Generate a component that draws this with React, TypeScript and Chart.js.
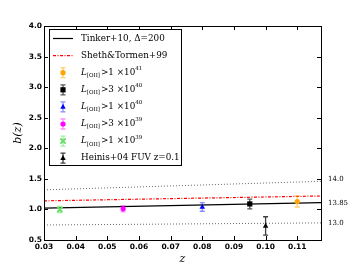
import React, { useEffect, useRef } from "react";
import { Chart, registerables } from "chart.js";

Chart.register(...registerables);

// Model lines (z range endpoints)
const zLine = [0.03, 0.1175];
const tinker = [1.02, 1.11];
const sheth = [1.14, 1.22];
const massHi = [1.32, 1.46];
const massLo = [0.745, 0.78];
const massLabels = ["14.0", "13.85", "13.0"];

// Measurements
const sampleZ = [0.11, 0.095, 0.08, 0.055, 0.035, 0.1];
const sampleB = [1.13, 1.09, 1.04, 1.01, 1.0, 0.73];
const sampleErr = [0.09, 0.08, 0.07, 0.05, 0.05, 0.15];
const sampleColors = ["#ffa500", "#000000", "#0000ff", "#ff00ff", "#66dd66", "#000000"];
const sampleErrColors = [
  "rgba(255,165,0,0.55)",
  "rgba(0,0,0,0.65)",
  "rgba(0,0,255,0.45)",
  "rgba(255,0,255,0.45)",
  "rgba(102,221,102,0.6)",
  "rgba(0,0,0,0.75)",
];
const sampleStyles = ["circle", "rect", "triangle", "circle", "crossRot", "triangle"];
const sampleExp = ["41", "40", "40", "39", "39", ""];
const sampleCoef = ["1", "3", "1", "3", "1", ""];

const xTicks = [0.03, 0.04, 0.05, 0.06, 0.07, 0.08, 0.09, 0.1, 0.11];
const yTicks = [0.5, 1.0, 1.5, 2.0, 2.5, 3.0, 3.5, 4.0];

function drawMarker(ctx: CanvasRenderingContext2D, style: string, x: number, y: number, color: string, r: number) {
  ctx.save();
  ctx.fillStyle = color;
  ctx.strokeStyle = color;
  ctx.beginPath();
  if (style === "circle") {
    ctx.arc(x, y, r, 0, Math.PI * 2);
    ctx.fill();
  } else if (style === "rect") {
    ctx.fillRect(x - r, y - r, 2 * r, 2 * r);
  } else if (style === "triangle") {
    ctx.moveTo(x, y - r * 1.2);
    ctx.lineTo(x + r * 1.05, y + r * 0.7);
    ctx.lineTo(x - r * 1.05, y + r * 0.7);
    ctx.closePath();
    ctx.fill();
  } else {
    ctx.lineWidth = 1.8;
    ctx.moveTo(x - r, y - r);
    ctx.lineTo(x + r, y + r);
    ctx.moveTo(x + r, y - r);
    ctx.lineTo(x - r, y + r);
    ctx.stroke();
  }
  ctx.restore();
}

function drawErr(ctx: CanvasRenderingContext2D, x: number, y1: number, y2: number, color: string) {
  ctx.save();
  ctx.strokeStyle = color;
  ctx.lineWidth = 1.3;
  ctx.beginPath();
  ctx.moveTo(x, y1);
  ctx.lineTo(x, y2);
  ctx.moveTo(x - 2.5, y1);
  ctx.lineTo(x + 2.5, y1);
  ctx.moveTo(x - 2.5, y2);
  ctx.lineTo(x + 2.5, y2);
  ctx.stroke();
  ctx.restore();
}

const customPlugin = {
  id: "custom",
  afterDatasetsDraw(chart: any) {
    const ctx: CanvasRenderingContext2D = chart.ctx;
    const xs = chart.scales.x;
    const ys = chart.scales.y;
    for (let i = 0; i < sampleZ.length; i++) {
      const px = xs.getPixelForValue(sampleZ[i]);
      drawErr(ctx, px, ys.getPixelForValue(sampleB[i] + sampleErr[i]), ys.getPixelForValue(sampleB[i] - sampleErr[i]), sampleErrColors[i]);
      drawMarker(ctx, sampleStyles[i], px, ys.getPixelForValue(sampleB[i]), sampleColors[i], 2.6);
    }
  },
  afterDraw(chart: any) {
    const ctx: CanvasRenderingContext2D = chart.ctx;
    const a = chart.chartArea;
    const xs = chart.scales.x;
    const ys = chart.scales.y;
    ctx.save();
    ctx.strokeStyle = "#000";
    ctx.lineWidth = 1;
    ctx.strokeRect(Math.round(a.left) + 0.5, Math.round(a.top) + 0.5, Math.round(a.right - a.left), Math.round(a.bottom - a.top));
    ctx.beginPath();
    for (const v of xTicks) {
      const px = Math.round(xs.getPixelForValue(v)) + 0.5;
      ctx.moveTo(px, a.bottom);
      ctx.lineTo(px, a.bottom - 4);
      ctx.moveTo(px, a.top);
      ctx.lineTo(px, a.top + 4);
    }
    for (const v of yTicks) {
      const py = Math.round(ys.getPixelForValue(v)) + 0.5;
      ctx.moveTo(a.left, py);
      ctx.lineTo(a.left + 4, py);
      ctx.moveTo(a.right, py);
      ctx.lineTo(a.right - 4, py);
    }
    ctx.stroke();

    ctx.fillStyle = "#000";
    ctx.font = "7px 'DejaVu Serif'";
    ctx.textAlign = "left";
    ctx.textBaseline = "middle";
    const ends = [massHi[1], tinker[1], massLo[1]];
    const offs = [-2, 0, 0];
    for (let i = 0; i < 3; i++) {
      ctx.fillText(massLabels[i], a.right + 7, ys.getPixelForValue(ends[i]) + offs[i]);
    }

    ctx.font = "italic 11px 'DejaVu Serif'";
    ctx.textAlign = "center";
    ctx.fillText("z", (a.left + a.right) / 2, 259);
    ctx.save();
    ctx.translate(18, (a.top + a.bottom) / 2);
    ctx.rotate(-Math.PI / 2);
    ctx.fillText("b(z)", 0, 0);
    ctx.restore();

    // legend
    const bx = 49, by = 29.5, bw = 132, bh = 136;
    ctx.fillStyle = "#fff";
    ctx.fillRect(bx, by, bw, bh);
    ctx.strokeStyle = "#000";
    ctx.lineWidth = 1;
    ctx.strokeRect(bx + 0.5, by, bw, bh);
    const rowY = (k: number) => 38.5 + k * 17.1;
    const mx = 63;
    const tx = 81;
    ctx.beginPath();
    ctx.strokeStyle = "#000";
    ctx.lineWidth = 1.2;
    ctx.moveTo(53, rowY(0));
    ctx.lineTo(73, rowY(0));
    ctx.stroke();
    ctx.beginPath();
    ctx.strokeStyle = "#ff0000";
    ctx.setLineDash([3, 1.5, 1, 1.5]);
    ctx.moveTo(53, rowY(1));
    ctx.lineTo(73, rowY(1));
    ctx.stroke();
    ctx.setLineDash([]);
    ctx.fillStyle = "#000";
    ctx.textAlign = "left";
    ctx.textBaseline = "middle";
    const fs = 8.8;
    ctx.font = `${fs}px 'DejaVu Serif'`;
    ctx.fillText("Tinker+10, \u0394=200", tx, rowY(0));
    ctx.fillText("Sheth&Tormen+99", tx, rowY(1));
    for (let i = 0; i < sampleZ.length; i++) {
      const y = rowY(i + 2);
      drawErr(ctx, mx, y - 5, y + 5, sampleErrColors[i]);
      drawMarker(ctx, sampleStyles[i], mx, y, sampleColors[i], 2.6);
      ctx.fillStyle = "#000";
      if (i === sampleZ.length - 1) {
        ctx.font = `${fs}px 'DejaVu Serif'`;
        ctx.fillText("Heinis+04 FUV z=0.1", tx, y);
      } else {
        let x = tx;
        ctx.font = `italic ${fs}px 'DejaVu Serif'`;
        ctx.fillText("L", x, y);
        x += ctx.measureText("L").width;
        ctx.font = "5.5px 'DejaVu Serif'";
        ctx.fillText("[OII]", x, y + 3);
        x += ctx.measureText("[OII]").width + 1;
        ctx.font = `${fs}px 'DejaVu Serif'`;
        const main = ">" + sampleCoef[i] + " \u00d710";
        ctx.fillText(main, x, y);
        x += ctx.measureText(main).width;
        ctx.font = "5.5px 'DejaVu Serif'";
        ctx.fillText(sampleExp[i], x, y - 4);
      }
    }
    ctx.restore();
  },
};

export default function App() {
  const ref = useRef<HTMLCanvasElement>(null);
  useEffect(() => {
    if (!ref.current) return;
    const lineData = (vals: number[]) => zLine.map((z, i) => ({ x: z, y: vals[i] }));
    const chart = new Chart(ref.current, {
      type: "scatter",
      data: {
        datasets: [
          { type: "line", data: lineData(massHi), borderColor: "#666", borderWidth: 1, borderDash: [1, 2], pointRadius: 0, fill: false },
          { type: "line", data: lineData(massLo), borderColor: "#666", borderWidth: 1, borderDash: [1, 2], pointRadius: 0, fill: false },
          { type: "line", data: lineData(sheth), borderColor: "#ff0000", borderWidth: 1.2, borderDash: [3, 1.5, 1, 1.5], pointRadius: 0, fill: false },
          { type: "line", data: lineData(tinker), borderColor: "#000", borderWidth: 1.2, pointRadius: 0, fill: false },
        ] as any,
      },
      options: {
        animation: false,
        responsive: true,
        maintainAspectRatio: false,
        devicePixelRatio: 1,
        layout: { padding: { left: 0, right: 36, top: 26, bottom: 0 } },
        plugins: { legend: { display: false }, tooltip: { enabled: false } },
        scales: {
          x: {
            type: "linear",
            min: 0.03,
            max: 0.1175,
            grid: { display: false, drawTicks: false, tickLength: 0 },
            border: { display: false },
            afterBuildTicks: (s: any) => { s.ticks = xTicks.map((v) => ({ value: v })); },
            afterFit: (s: any) => { s.height = 28; },
            ticks: {
              color: "#000",
              padding: 3,
              maxRotation: 0,
              font: { family: "'DejaVu Sans'", size: 7.5, weight: "bold" },
              callback: (v: any) => Number(v).toFixed(2),
            },
          },
          y: {
            type: "linear",
            min: 0.5,
            max: 4.0,
            grid: { display: false, drawTicks: false, tickLength: 0 },
            border: { display: false },
            afterBuildTicks: (s: any) => { s.ticks = yTicks.map((v) => ({ value: v })); },
            afterFit: (s: any) => { s.width = 44; },
            ticks: {
              color: "#000",
              padding: 2,
              font: { family: "'DejaVu Sans'", size: 7.5, weight: "bold" },
              callback: (v: any) => Number(v).toFixed(1),
            },
          },
        },
      } as any,
      plugins: [customPlugin],
    });
    return () => chart.destroy();
  }, []);
  return (
    <div style={{ position: "absolute", left: 0, top: 0, width: 357, height: 268, background: "#fff" }}>
      <canvas ref={ref} />
    </div>
  );
}
